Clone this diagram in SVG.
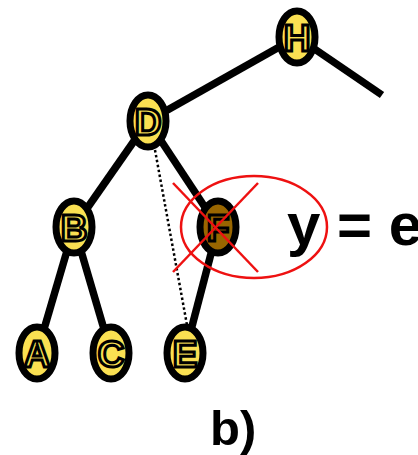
<svg xmlns="http://www.w3.org/2000/svg" width="418" height="455" viewBox="0 0 418 455">
<style>
.edge{stroke:#000;stroke-width:7.5;fill:none}
.dot{stroke:#000;stroke-width:2.5;stroke-dasharray:2.5 2.5;fill:none}
.node ellipse{fill:#FAE052;stroke:#000;stroke-width:7}
.node text{font-family:"Liberation Sans",Arial,sans-serif;font-weight:bold;font-size:37px;fill:#FAE052;stroke:#000;stroke-width:3;text-anchor:middle}
#F ellipse{fill:#996600}
#F text{fill:#996600}
.red{stroke:#EE1111;stroke-width:2.5;fill:none}
.lbl{font-family:"Liberation Sans",Arial,sans-serif;font-weight:bold;fill:#000}
</style>
<g id="connectors">
<line class="edge" x1="297" y1="37" x2="148" y2="121"/>
<line class="edge" x1="297" y1="37" x2="382" y2="95"/>
<line class="edge" x1="148" y1="121" x2="74" y2="227"/>
<line class="edge" x1="148" y1="121" x2="218" y2="227"/>
<line class="edge" x1="74" y1="227" x2="37" y2="353"/>
<line class="edge" x1="74" y1="227" x2="111" y2="353"/>
<line class="edge" x1="218" y1="227" x2="185" y2="353"/>
<line class="dot" x1="155" y1="150" x2="187" y2="325"/>
</g>
<g id="H" class="node"><ellipse cx="297" cy="37" rx="18" ry="26"/><text x="297" y="50.5">H</text></g>
<g id="D" class="node"><ellipse cx="148" cy="121" rx="18" ry="26"/><text x="148" y="134.5">D</text></g>
<g id="B" class="node"><ellipse cx="74" cy="227" rx="18" ry="26"/><text x="74" y="240.5">B</text></g>
<g id="F" class="node"><ellipse cx="218" cy="227" rx="18" ry="26"/><text x="218" y="240.5">F</text></g>
<g id="A" class="node"><ellipse cx="37" cy="353" rx="18" ry="26"/><text x="37" y="366.5">A</text></g>
<g id="C" class="node"><ellipse cx="111" cy="353" rx="18" ry="26"/><text x="111" y="366.5">C</text></g>
<g id="E" class="node"><ellipse cx="185" cy="353" rx="18" ry="26"/><text x="185" y="366.5">E</text></g>
<g id="cross">
<ellipse class="red" cx="254" cy="227" rx="73" ry="51"/>
<line class="red" x1="173" y1="183" x2="258" y2="272"/>
<line class="red" x1="258" y1="183" x2="173" y2="272"/>
</g>
<text class="lbl" x="287" y="245" font-size="60">y = e</text>
<text class="lbl" x="210" y="445" font-size="49">b)</text>
</svg>
